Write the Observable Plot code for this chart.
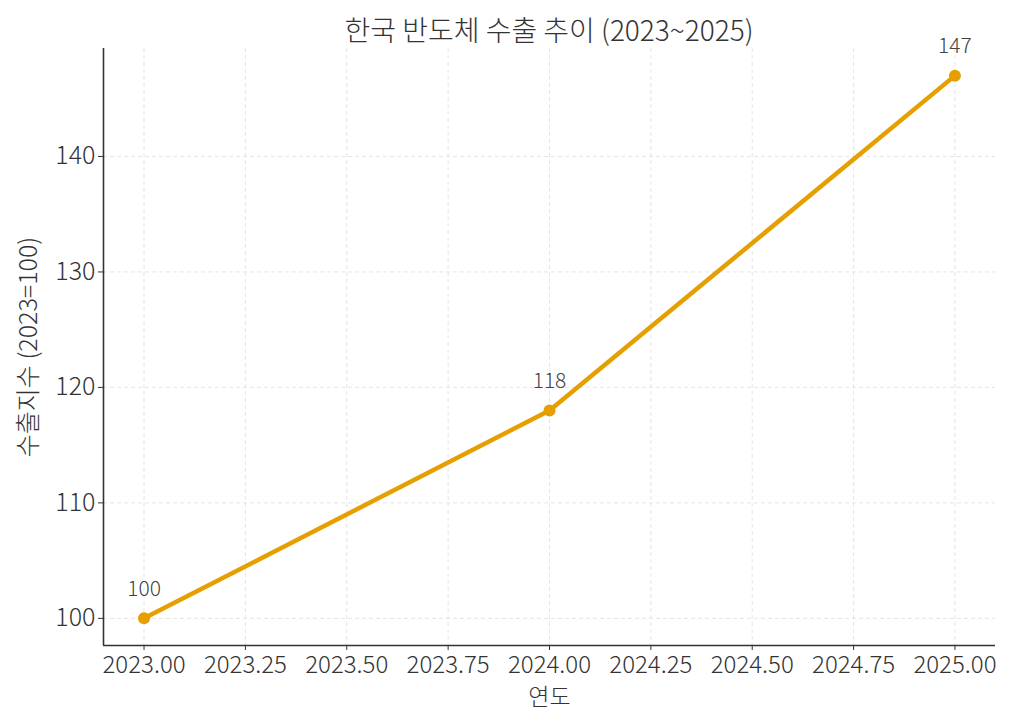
<!DOCTYPE html>
<html>
<head>
<meta charset="utf-8">
<script src="https://cdn.jsdelivr.net/npm/d3@7"></script>
<script src="https://cdn.jsdelivr.net/npm/@observablehq/plot@0.6"></script>
<style>
  html, body { margin: 0; padding: 0; background: #fff; }
  #wrap { position: relative; width: 1024px; height: 727px; font-family: "Noto Sans CJK KR", "Noto Sans", sans-serif; font-weight: 300; }
  #title { position: absolute; left: 103px; width: 892px; top: 11px; text-align: center; font-size: 28px; color: #333; line-height: 36px; font-weight: 300; }
  #chart svg text { font-weight: 300; }
</style>
</head>
<body>
<div id="wrap">
  <div id="chart"></div>
  <div id="title">한국 반도체 수출 추이 (2023~2025)</div>
</div>
<script>
const years = [2023, 2024, 2025];
const values = [100, 118, 147];
const xTicks = [2023, 2023.25, 2023.5, 2023.75, 2024, 2024.25, 2024.5, 2024.75, 2025];
const yTicks = [100, 110, 120, 130, 140];
const titleText = "한국 반도체 수출 추이 (2023~2025)";
const xLabel = "연도";
const yLabel = "수출지수 (2023=100)";

const data = years.map((y, i) => ({year: y, value: values[i]}));
const xPad = (d3.max(years) - d3.min(years)) * 0.05;
const yPad = (d3.max(values) - d3.min(values)) * 0.05;
const xDomain = [d3.min(years) - xPad, d3.max(years) + xPad];
const yDomain = [d3.min(values) - yPad, d3.max(values) + yPad];
const color = "#E69F00";
const ink = "#333";

const chart = Plot.plot({
  width: 1024,
  height: 727,
  marginTop: 48,
  marginLeft: 103,
  marginRight: 29,
  marginBottom: 82,
  style: {fontFamily: '"Noto Sans CJK KR", "Noto Sans", sans-serif', fontSize: "18px", fontWeight: 300, color: ink, background: "#fff", overflow: "visible"},
  x: {domain: xDomain},
  y: {domain: yDomain},
  marks: [
    Plot.gridX(xTicks, {stroke: "#dedede", strokeOpacity: 1, strokeDasharray: "4,3", strokeWidth: 0.8}),
    Plot.gridY(yTicks, {stroke: "#dedede", strokeOpacity: 1, strokeDasharray: "4,3", strokeWidth: 0.8}),
    Plot.axisX(xTicks, {tickFormat: d3.format(".2f"), tickSize: 5, tickPadding: 5, label: null, fontSize: 24, stroke: ink, color: ink}),
    Plot.axisY(yTicks, {tickSize: 5, tickPadding: 3, label: null, fontSize: 25, stroke: ink, color: ink}),
    Plot.ruleX([xDomain[0]], {stroke: ink, strokeWidth: 1.6}),
    Plot.ruleY([yDomain[0]], {stroke: ink, strokeWidth: 1.6}),
    Plot.line(data, {x: "year", y: "value", stroke: color, strokeWidth: 4.5}),
    Plot.dot(data, {x: "year", y: "value", r: 6, fill: color}),
    Plot.text(data, {x: "year", y: "value", text: d => String(d.value), dy: -29, fontSize: 21, fill: "#444"}),
    Plot.text([xLabel], {frameAnchor: "bottom", dy: 59, fontSize: 23, fill: ink}),
    Plot.text([yLabel], {frameAnchor: "left", textAnchor: "middle", rotate: -90, dx: -75, fontSize: 25, fill: ink})
  ]
});
document.getElementById("chart").appendChild(chart);
</script>
</body>
</html>
